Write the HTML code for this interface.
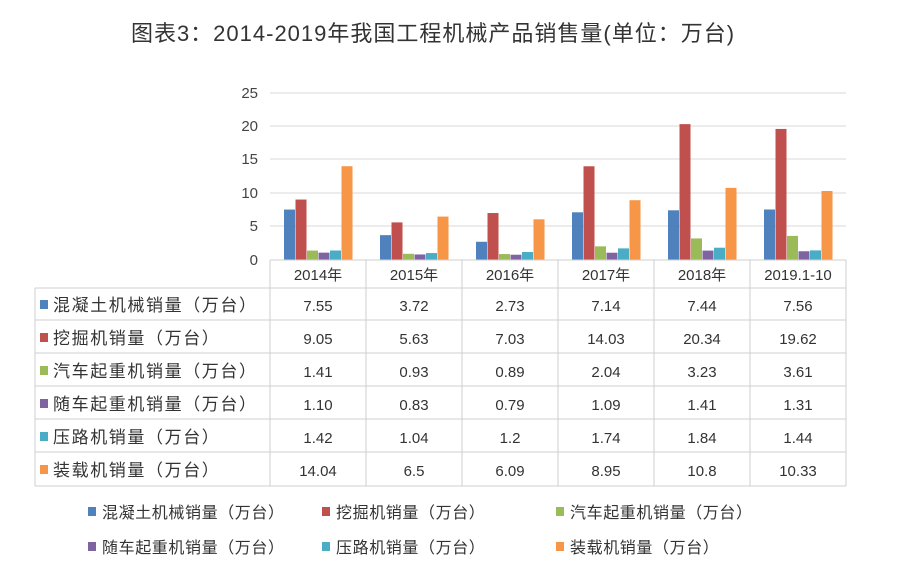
<!DOCTYPE html>
<html><head><meta charset="utf-8"><style>
body{margin:0;background:#fff;}
svg{display:block;font-family:"Liberation Sans","Noto Sans CJK SC",sans-serif;}
</style></head><body>
<svg width="900" height="580" xmlns="http://www.w3.org/2000/svg">
<text x="433" y="41" text-anchor="middle" font-size="22" fill="#333" letter-spacing="1">图表3：2014-2019年我国工程机械产品销售量(单位：万台)</text>
<g stroke="#d9d9d9" stroke-width="1">
<line x1="270" y1="93" x2="846" y2="93"/>
<line x1="270" y1="126" x2="846" y2="126"/>
<line x1="270" y1="159" x2="846" y2="159"/>
<line x1="270" y1="193" x2="846" y2="193"/>
<line x1="270" y1="226" x2="846" y2="226"/>
</g>
<g font-size="15" fill="#444" text-anchor="end">
<text x="258" y="98">25</text><text x="258" y="131">20</text><text x="258" y="164">15</text>
<text x="258" y="198">10</text><text x="258" y="231">5</text><text x="258" y="265">0</text>
</g>
<g id="bars"></g>
<g stroke="#cfcfcf" stroke-width="1" fill="none">
<line x1="270" y1="260" x2="846" y2="260"/>
<line x1="35" y1="288" x2="846" y2="288"/>
<line x1="35" y1="320" x2="846" y2="320"/>
<line x1="35" y1="353" x2="846" y2="353"/>
<line x1="35" y1="386" x2="846" y2="386"/>
<line x1="35" y1="419" x2="846" y2="419"/>
<line x1="35" y1="452" x2="846" y2="452"/>
<line x1="35" y1="486" x2="846" y2="486"/>
<line x1="35" y1="288" x2="35" y2="486"/>
<line x1="270" y1="260" x2="270" y2="486"/>
<line x1="366" y1="260" x2="366" y2="486"/>
<line x1="462" y1="260" x2="462" y2="486"/>
<line x1="558" y1="260" x2="558" y2="486"/>
<line x1="654" y1="260" x2="654" y2="486"/>
<line x1="750" y1="260" x2="750" y2="486"/>
<line x1="846" y1="260" x2="846" y2="486"/>
</g>
<g font-size="15" fill="#333" text-anchor="middle">
<text x="318" y="280">2014年</text><text x="414" y="280">2015年</text><text x="510" y="280">2016年</text>
<text x="606" y="280">2017年</text><text x="702" y="280">2018年</text><text x="798" y="280">2019.1-10</text>
</g>
<g id="tbl" font-size="15" fill="#333"></g>
<g id="leg" font-size="15" fill="#333"></g>
</svg>
<script>
var ns="http://www.w3.org/2000/svg";
var cols=["#4F81BD","#C0504D","#9BBB59","#8064A2","#4BACC6","#F79646"];
var names=["混凝土机械销量（万台）","挖掘机销量（万台）","汽车起重机销量（万台）","随车起重机销量（万台）","压路机销量（万台）","装载机销量（万台）"];
var d=[[7.55,3.72,2.73,7.14,7.44,7.56],[9.05,5.63,7.03,14.03,20.34,19.62],[1.41,0.93,0.89,2.04,3.23,3.61],[1.10,0.83,0.79,1.09,1.41,1.31],[1.42,1.04,1.2,1.74,1.84,1.44],[14.04,6.5,6.09,8.95,10.8,10.33]];
var lbl=[["7.55","3.72","2.73","7.14","7.44","7.56"],["9.05","5.63","7.03","14.03","20.34","19.62"],["1.41","0.93","0.89","2.04","3.23","3.61"],["1.10","0.83","0.79","1.09","1.41","1.31"],["1.42","1.04","1.2","1.74","1.84","1.44"],["14.04","6.5","6.09","8.95","10.8","10.33"]];
function el(t,a,p,txt){var e=document.createElementNS(ns,t);for(var k in a)e.setAttribute(k,a[k]);if(txt)e.textContent=txt;document.getElementById(p).appendChild(e);}
for(var c=0;c<6;c++){var cx=318+96*c;for(var s=0;s<6;s++){var h=d[s][c]*6.68;el("rect",{x:cx-34+s*11.5,y:260-h,width:11,height:h,fill:cols[s]},"bars");}}
for(var s=0;s<6;s++){var y=311+33*s;el("rect",{x:40,y:y-11,width:8,height:9,fill:cols[s]},"tbl");el("text",{x:53,y:y,"font-size":"17","letter-spacing":"1.6"},"tbl",names[s]);
for(var c=0;c<6;c++)el("text",{x:318+96*c,y:y,"text-anchor":"middle"},"tbl",lbl[s][c]);}
var lp=[[88,518],[322,518],[556,518],[88,553],[322,553],[556,553]];
for(var s=0;s<6;s++){el("rect",{x:lp[s][0],y:lp[s][1]-11,width:8,height:9,fill:cols[s]},"leg");el("text",{x:lp[s][0]+14,y:lp[s][1],"font-size":"16","letter-spacing":"0.6"},"leg",names[s]);}
</script>
</body></html>
